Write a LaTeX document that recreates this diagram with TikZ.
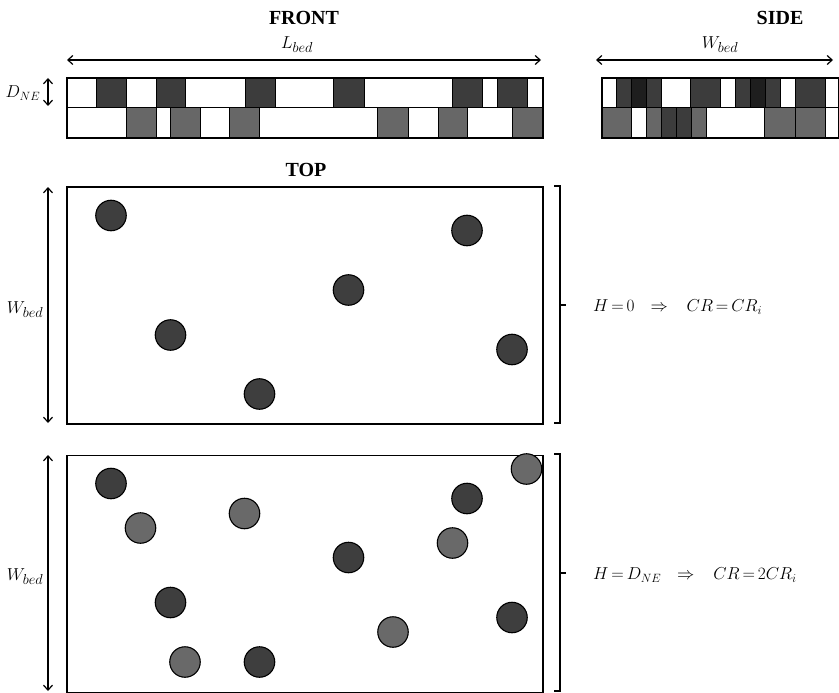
\documentclass[tikz,border=0pt]{standalone}
\usepackage{fontspec}
\newfontfamily\titlefont{Liberation Serif}
\usetikzlibrary{arrows.meta}
\DeclareMathSizes{18}{18}{13.5}{10}
\DeclareMathSizes{17}{17}{12.5}{9}
\DeclareMathSizes{16}{16}{12}{9}
\definecolor{darkcell}{HTML}{3C3C3C}
\definecolor{darkercell}{HTML}{1E1E1E}
\definecolor{graycell}{HTML}{676767}
\definecolor{darkball}{HTML}{3E3E3E}
\definecolor{grayball}{HTML}{696969}
\tikzset{
  title/.style={font=\titlefont\fontsize{20}{24}\selectfont\bfseries, inner sep=0pt},
  lbl/.style={font=\fontsize{18}{21}\selectfont, inner sep=0pt},
  eqn/.style={font=\fontsize{17}{20}\selectfont, inner sep=0pt, anchor=west},
  dim/.style={line width=1.2pt, {Straight Barb[length=5pt,width=9pt,line width=1.2pt]}-{Straight Barb[length=5pt,width=9pt,line width=1.2pt]}},
  cell/.style={draw=black, line width=0.8pt},
  frame/.style={draw=black, line width=1.6pt},
  ball/.style={circle, draw=black, line width=1.1pt, minimum size=30.5pt, inner sep=0pt},
  dk/.style={ball, fill=darkball},
  gy/.style={ball, fill=grayball},
  brk/.style={line width=1.2pt}
}
\begin{document}
\begin{tikzpicture}[x=1pt,y=-1pt]
\useasboundingbox[fill=white] (0,0) rectangle (839,693);

% titles
\node[title] (front) at (304,18) {FRONT};
\node[title] (side) at (780,18) {SIDE};
\node[title] (top) at (306,170) {TOP};

% front strip cells
\foreach \a/\b in {96/126,156/185,245/275,333/364,452/482,497/527}
  \filldraw[cell, fill=darkcell] (\a,77) rectangle (\b,107);
\foreach \a/\b in {126/156,170/200,229/259,377/408,438/467,512/542}
  \filldraw[cell, fill=graycell] (\a,107) rectangle (\b,137);
\draw[cell] (66,107) -- (542,107);
\node[frame, minimum width=476pt, minimum height=60pt, inner sep=0pt, anchor=north west] (fstrip) at (66,77) {};

% side strip cells
\foreach \a/\b/\c in {616/631/darkcell,631/646/darkercell,646/661/darkcell,690/720/darkcell,735/750/darkcell,750/765/darkercell,765/780/darkcell,795/825/darkcell}
  \filldraw[cell, fill=\c] (\a,77) rectangle (\b,107);
\foreach \a/\b/\c in {601/631/graycell,646/661/graycell,661/676/darkcell,676/691/darkcell,691/706/graycell,764/795/graycell,795/825/graycell}
  \filldraw[cell, fill=\c] (\a,107) rectangle (\b,137);
\draw[cell] (601,107) -- (838,107);
\draw[cell] (825,77) -- (825,137);
\node[frame, minimum width=237pt, minimum height=60pt, inner sep=0pt, anchor=north west] (sstrip) at (601,77) {};

% dimension arrows top
\coordinate (lbA) at (67,60);
\coordinate (lbB) at (541,60);
\draw[dim] (lbA) -- (lbB);
\node[lbl] (lbed) at (297,45) {$L_{bed}$};
\coordinate (wsA) at (596,60);
\coordinate (wsB) at (833,60);
\draw[dim] (wsA) -- (wsB);
\node[lbl] (wbedS) at (720,45) {$W_{bed}$};
\coordinate (dnA) at (48,78);
\coordinate (dnB) at (48,106);
\draw[dim] (dnA) -- (dnB);
\node[lbl, font=\fontsize{16}{18}\selectfont] (dne) at (23,93) {$D_{NE}$};

% top panel
\node[frame, minimum width=476pt, minimum height=237pt, inner sep=0pt, anchor=north west] (p1) at (66,186) {};
\coordinate (w1A) at (48,187);
\coordinate (w1B) at (48,423);
\draw[dim] (w1A) -- (w1B);
\node[lbl] (w1) at (25,310) {$W_{bed}$};
\node[dk] (a1) at (111,215.5) {};
\node[dk] (a2) at (467,230.5) {};
\node[dk] (a3) at (348.5,290) {};
\node[dk] (a4) at (170.5,335) {};
\node[dk] (a5) at (512,349.5) {};
\node[dk] (a6) at (259.5,394) {};
\draw[brk] (554,186) -- (560,186) -- (560,423) -- (554,423);
\draw[brk] (560,305) -- (566,305);
\node[eqn] (eq1) at (593,307) {$\thickmuskip=3mu\relax H=0\hspace{13pt}\Rightarrow\hspace{16pt}CR=CR_i$};

% bottom panel
\node[frame, minimum width=476pt, minimum height=237pt, inner sep=0pt, anchor=north west] (p2) at (66,454.5) {};
\coordinate (w2A) at (48,455);
\coordinate (w2B) at (48,691);
\draw[dim] (w2A) -- (w2B);
\node[lbl] (w2) at (25,577) {$W_{bed}$};
\node[dk] (b1) at (111,483.5) {};
\node[dk] (b2) at (467,498.5) {};
\node[dk] (b3) at (348.5,557.5) {};
\node[dk] (b4) at (170.5,602.5) {};
\node[dk] (b5) at (512,617.5) {};
\node[dk] (b6) at (259.5,662) {};
\node[gy] (c1) at (526.5,469) {};
\node[gy] (c2) at (140.5,528) {};
\node[gy] (c3) at (244.5,513.5) {};
\node[gy] (c4) at (452.5,543) {};
\node[gy] (c5) at (393,632) {};
\node[gy] (c6) at (185,662) {};
\draw[brk] (554,454) -- (560,454) -- (560,691) -- (554,691);
\draw[brk] (560,573) -- (566,573);
\node[eqn] (eq2) at (593,575) {$\thickmuskip=3mu\relax H=D_{NE}\hspace{13pt}\Rightarrow\hspace{16pt}CR=2CR_i$};
\end{tikzpicture}
\end{document}
